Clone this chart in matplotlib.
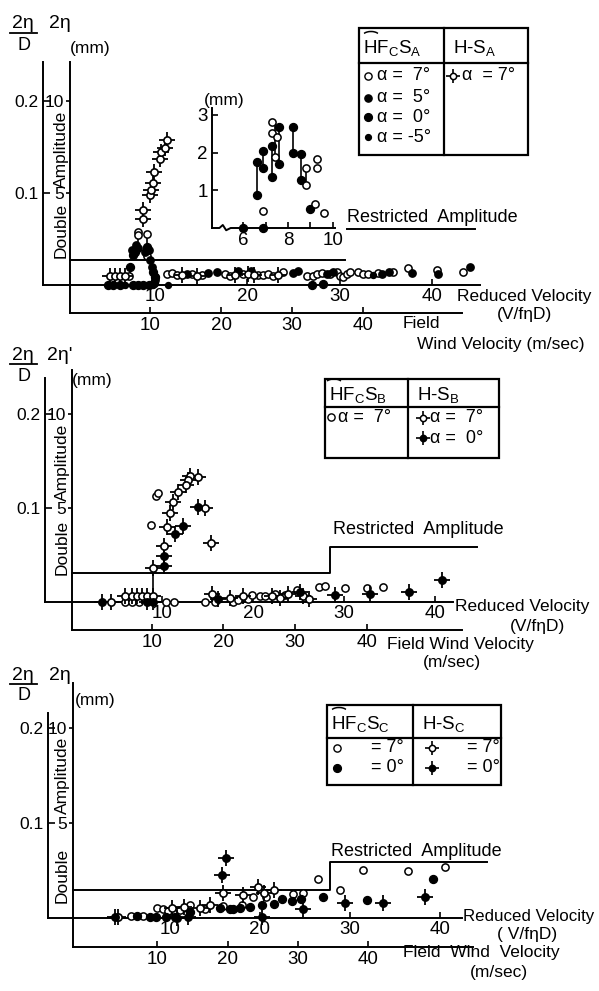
import matplotlib.pyplot as plt
from matplotlib.lines import Line2D
from matplotlib.patches import Rectangle, Arc

plt.rcParams['font.family'] = ['Liberation Sans', 'DejaVu Sans']
plt.rcParams['mathtext.fontset'] = 'custom'
plt.rcParams['mathtext.rm'] = 'Liberation Sans'
plt.rcParams['mathtext.it'] = 'Liberation Sans:italic'

W, H = 599, 991

reduced_ticks = [10, 20, 30, 40]
wind_ticks = [10, 20, 30, 40]
ratio_ticks = [0.1, 0.2]
ratio_labels = ['0.1', '0.2']
mm_ticks = [5, 10]
mm_labels = ['5', '10']

# --- HF_C S_A / H-S_A (top) ---
p1_hf7_x = [8.2, 8.2, 9.1, 9.1, 10.0, 7.2, 10.0, 11.3, 11.8, 12.4, 14.0, 15.1, 17.6, 18.1,
            19.5, 21.2, 21.7, 22.2, 22.8, 23.9, 26.5, 27.1, 27.6, 28.1, 29.0, 29.7, 30.0,
            30.4, 30.8, 31.1, 32.0, 32.5, 33.1, 34.2, 35.8, 37.4, 40.6, 43.4]
p1_hf7_y = [0.058, 0.054, 0.055, 0.031, 0.005, 0.010, 0.009, 0.012, 0.013, 0.011, 0.012,
            0.011, 0.012, 0.010, 0.012, 0.011, 0.011, 0.012, 0.010, 0.014, 0.010, 0.010,
            0.012, 0.013, 0.012, 0.014, 0.010, 0.009, 0.012, 0.014, 0.014, 0.012, 0.012,
            0.013, 0.014, 0.018, 0.016, 0.014]
p1_hf5_x = [7.9, 7.5, 8.2, 8.9, 9.3, 9.5, 9.7, 13.5, 15.7, 16.7, 19.0, 20.4, 24.9, 25.5,
            28.6, 29.3, 34.6, 35.4, 37.8, 40.7, 44.1]
p1_hf5_y = [0.043, 0.038, 0.040, 0.036, 0.038, 0.027, 0.020, 0.012, 0.013, 0.014, 0.015,
            0.015, 0.013, 0.015, 0.012, 0.014, 0.012, 0.014, 0.013, 0.012, 0.020]
p1_hf0_x = [7.8, 7.6, 9.1, 7.3, 9.8, 9.9, 10.0, 4.9, 5.5, 6.2, 7.6, 8.2, 8.7, 9.3, 27.0, 28.2]
p1_hf0_y = [0.036, 0.033, 0.041, 0.020, 0.014, 0.002, 0.009, 0.0, 0.0, 0.0, 0.0, 0.0,
            0.0, 0.0, 0.0, 0.001]
p1_hfm5_x = [6.8, 9.8, 11.4, 33.6]
p1_hfm5_y = [0.0, 0.0, 0.0, 0.011]
p1_hs7_x = [8.7, 8.7, 9.5, 9.6, 9.8, 9.9, 10.5, 10.7, 11.1, 11.3, 5.1, 5.7, 6.2, 6.8,
            12.9, 14.6, 18.7, 20.1, 20.7, 23.3]
p1_hs7_y = [0.072, 0.082, 0.098, 0.103, 0.111, 0.123, 0.137, 0.145, 0.149, 0.158, 0.010,
            0.010, 0.010, 0.010, 0.011, 0.010, 0.011, 0.012, 0.011, 0.011]
p1_link_x = [8.2, 9.1, 7.3, 9.9]
p1_link_lo = [0.040, 0.031, 0.010, 0.002]
p1_link_hi = [0.054, 0.055, 0.020, 0.014]
p1_restr_lo_x = [0.8, 30.6]
p1_restr_lo_y = [0.027, 0.027]
p1_restr_hi_x = [30.8, 44.7]
p1_restr_hi_y = [0.061, 0.061]

# inset: low-speed detail in mm
inset_ticks = [6, 7, 8, 9, 10]
inset_tick_labels = ['6', '', '8', '', '10']
inset_mm_ticks = [1, 2, 3]
in_filled_x = [6.0, 6.9, 6.6, 6.6, 6.9, 6.9, 7.3, 7.3, 7.6, 7.6, 8.2, 8.2, 8.6, 8.6, 9.0]
in_filled_y = [0.0, 0.0, 0.88, 1.75, 2.04, 1.6, 2.17, 1.35, 2.68, 1.70, 2.68, 1.99, 1.96, 1.27, 0.5]
in_open_x = [6.9, 7.3, 7.3, 7.4, 7.5, 8.8, 8.8, 9.3, 9.3, 9.2, 9.6]
in_open_y = [0.45, 2.81, 2.52, 1.88, 2.41, 1.6, 1.14, 1.83, 1.6, 0.64, 0.4]
in_link_x = [6.6, 6.9, 7.3, 7.4, 7.6, 8.2, 8.6, 8.8]
in_link_lo = [0.88, 1.6, 1.35, 1.88, 1.70, 1.99, 1.27, 1.14]
in_link_hi = [1.75, 2.04, 2.17, 2.81, 2.68, 2.68, 1.96, 1.6]

# --- HF_C S_B / H-S_B (middle) ---
p2_hf7_x = [8.8, 9.3, 9.6, 5.9, 6.7, 7.5, 10.4, 11.3, 14.7, 15.8, 17.8, 18.4, 19.5, 19.9,
            20.8, 21.3, 22.4, 23.5, 24.8, 27.2, 27.9, 30.1, 32.5, 34.3]
p2_hf7_y = [0.082, 0.113, 0.116, 0.0, 0.0, 0.0, 0.0, 0.0, 0.0, 0.0, 0.0, 0.002, 0.003,
            0.007, 0.006, 0.006, 0.009, 0.007, 0.013, 0.016, 0.017, 0.015, 0.015, 0.016]
p2_hs7_x = [14.0, 13.1, 12.9, 12.6, 11.8, 11.2, 10.9, 10.6, 10.2, 9.0, 14.7, 15.4, 4.4,
            5.9, 6.7, 7.3, 7.8, 8.4, 9.0, 15.5, 17.5, 18.9, 22.1, 23.0, 23.9, 25.5, 26.1]
p2_hs7_y = [0.133, 0.134, 0.130, 0.125, 0.117, 0.106, 0.095, 0.080, 0.060, 0.036, 0.100,
            0.063, 0.0, 0.006, 0.006, 0.006, 0.006, 0.006, 0.006, 0.009, 0.004, 0.006,
            0.006, 0.004, 0.009, 0.006, 0.003]
p2_hs0_x = [14.0, 12.3, 11.4, 10.2, 10.2, 3.4, 8.4, 9.0, 16.2, 25.2, 29.0, 32.9, 37.1, 40.8]
p2_hs0_y = [0.101, 0.081, 0.072, 0.049, 0.038, 0.0, 0.0, 0.0, 0.003, 0.011, 0.007, 0.009,
            0.011, 0.023]
p2_link_x = [9.0]
p2_link_lo = [0.0]
p2_link_hi = [0.036]
p2_restr_x = [0.1, 28.5, 28.5, 44.6]
p2_restr_y = [0.031, 0.031, 0.0585, 0.0585]

# --- HF_C S_C / H-S_C (bottom) ---
p3_hf7_x = [5.7, 7.0, 8.5, 9.2, 9.8, 10.6, 11.1, 11.9, 12.2, 13.9, 15.9, 18.0, 19.2, 20.7,
            23.7, 24.8, 26.4, 28.9, 31.4, 36.4, 40.6]
p3_hf7_y = [0.002, 0.002, 0.011, 0.009, 0.007, 0.007, 0.008, 0.011, 0.014, 0.009, 0.013,
            0.014, 0.022, 0.022, 0.025, 0.026, 0.041, 0.029, 0.051, 0.049, 0.054]
p3_hf0_x = [6.3, 7.8, 8.4, 9.6, 10.6, 12.2, 15.6, 16.7, 17.0, 17.8, 18.9, 20.2, 21.5, 22.4,
            23.5, 24.6, 27.0, 31.9, 39.2]
p3_hf0_y = [0.002, 0.001, 0.001, 0.001, 0.001, 0.006, 0.011, 0.009, 0.009, 0.011, 0.012,
            0.014, 0.015, 0.020, 0.018, 0.020, 0.022, 0.019, 0.041]
p3_hs7_x = [4.2, 10.2, 11.5, 13.3, 14.4, 15.9, 18.1, 19.8, 20.4, 21.5]
p3_hs7_y = [0.001, 0.011, 0.012, 0.011, 0.014, 0.026, 0.024, 0.033, 0.026, 0.029]
p3_hs0_x = [3.9, 10.8, 12.0, 15.8, 16.2, 20.2, 24.8, 29.4, 33.7, 38.3]
p3_hs0_y = [0.001, 0.0, 0.001, 0.045, 0.063, 0.001, 0.009, 0.016, 0.016, 0.022]
p3_restr_x = [-0.8, 27.8, 27.8, 45.2]
p3_restr_y = [0.029, 0.029, 0.059, 0.059]

CIRCLE = {'hf7': dict(mfc='w', ms=5.2), 'hf5': dict(mfc='k', ms=5.2),
          'hf0': dict(mfc='k', ms=5.6), 'hfm5': dict(mfc='k', ms=4.2)}
LW = 1.4

fig = plt.figure(figsize=(W / 100, H / 100), dpi=100)


def fx(px):
    return px / W


def fy(py):
    return 1 - py / H


def txt(px, py, s, size=12.5, ha='left', va='center', **kw):
    fig.text(fx(px), fy(py), s, fontsize=size, ha=ha, va=va, **kw)


def circles(ax, x, y, kind):
    ax.plot(x, y, ls='none', marker='o', mec='k', mew=1.1, clip_on=False, zorder=4, **CIRCLE[kind])


def stars(ax, x, y, filled):
    ax.plot(x, y, ls='none', marker='+', ms=12, mew=1.3, color='k', clip_on=False, zorder=4)
    ax.plot(x, y, ls='none', marker='o', ms=5.2, mfc='k' if filled else 'w', mec='k',
            mew=1.2, clip_on=False, zorder=5)


def links(ax, x, lo, hi):
    ax.vlines(x, lo, hi, color='k', lw=1.2, zorder=3)


def make_panel(g):
    mm_px = g['v_px'] / 50
    axf = fig.add_axes([fx(g['mm']), fy(g['field']), (g['f_right'] - g['mm']) / W,
                        (g['field'] - g['top_mm']) / H])
    axf.set_xlim((g['mm'] - g['f0']) / g['f_px'], (g['f_right'] - g['f0']) / g['f_px'])
    axf.set_ylim(-(g['field'] - g['base']) / mm_px, (g['base'] - g['top_mm']) / mm_px)
    ax = fig.add_axes([fx(g['left']), fy(g['base']), (g['r_right'] - g['left']) / W,
                       (g['base'] - g['top']) / H])
    ax.set_xlim((g['left'] - g['r0']) / g['r_px'], (g['r_right'] - g['r0']) / g['r_px'])
    ax.set_ylim(0, (g['base'] - g['top']) / g['v_px'])
    for a in (axf, ax):
        a.patch.set_alpha(0)
        a.spines[['top', 'right']].set_visible(False)
        a.spines[['left', 'bottom']].set_linewidth(LW)
    axf.set_xticks(wind_ticks)
    axf.set_yticks(mm_ticks, mm_labels)
    axf.tick_params(axis='x', direction='in', length=4, width=1.2, pad=3, labelsize=13.5)
    axf.tick_params(axis='y', direction='out', length=3, width=1.2, pad=1, labelsize=12.5)
    ax.set_xticks(reduced_ticks)
    ax.set_yticks(ratio_ticks, ratio_labels)
    ax.tick_params(axis='x', direction='in', length=4, width=1.2, pad=2, labelsize=13.5)
    ax.tick_params(axis='y', direction='in', length=5, width=1.2, pad=3, labelsize=12.5)
    return ax


def header(px, py, num2, mm_xy, amp_x, dbl_y, amp_y):
    txt(px, py, '2η', 14, ha='center')
    fig.add_artist(Line2D([fx(px - 13), fx(px + 14)], [fy(py + 9)] * 2, color='k', lw=1.3,
                          transform=fig.transFigure))
    txt(px + 1, py + 21, 'D', 13, ha='center')
    txt(px + 37, py, num2, 14, ha='center')
    txt(mm_xy[0], mm_xy[1], '(mm)', 12.5)
    txt(amp_x, dbl_y, 'Double', 12.5, ha='center', rotation=90)
    txt(amp_x, amp_y, 'Amplitude', 12.5, ha='center', rotation=90)


def key(px, py, kind):
    x, y = fx(px), fy(py)
    if kind.startswith('hs'):
        fig.add_artist(Line2D([x], [y], marker='+', ms=10, mew=1.2, color='k',
                              transform=fig.transFigure))
        fig.add_artist(Line2D([x], [y], marker='o', ms=4.5, mec='k', mew=1.1,
                              mfc='k' if kind == 'hs0' else 'w', transform=fig.transFigure))
    else:
        fig.add_artist(Line2D([x], [y], marker='o', mec='k', mew=1.0,
                              transform=fig.transFigure, **CIRCLE[kind]))


def table(x0, x1, y0, y1, ydiv, xdiv, sub, hat):
    fig.add_artist(Rectangle((fx(x0), fy(y1)), (x1 - x0) / W, (y1 - y0) / H, fill=False,
                             lw=1.6, transform=fig.transFigure))
    fig.add_artist(Line2D([fx(x0), fx(x1)], [fy(ydiv)] * 2, color='k', lw=1.6,
                          transform=fig.transFigure))
    fig.add_artist(Line2D([fx(xdiv)] * 2, [fy(y0), fy(y1)], color='k', lw=1.6,
                          transform=fig.transFigure))
    hy = (y0 + ydiv) / 2 + 2
    txt(x0 + 4, hy, r'HF$_\mathrm{C}$S$_\mathrm{%s}$' % sub, 13.5)
    fig.add_artist(Arc((fx(hat), fy(hy - 12)), 16 / W, 8 / H, theta1=10, theta2=170, lw=1.1,
                       transform=fig.transFigure))
    txt(xdiv + 9, hy, r'H-S$_\mathrm{%s}$' % sub, 13.5)


panels = [
    dict(left=43, mm=70, base=285, field=313, top=62, top_mm=62, r_right=480, f_right=462,
         r0=62.7, r_px=9.23, v_px=920, f0=79, f_px=7.1),
    dict(left=45, mm=72, base=602, field=630, top=378, top_mm=370, r_right=453, f_right=462,
         r0=71, r_px=9.1, v_px=940, f0=80, f_px=7.17),
    dict(left=48, mm=73, base=918, field=947, top=713, top_mm=683, r_right=462, f_right=473,
         r0=80, r_px=9.0, v_px=950, f0=87, f_px=7.03),
]

# top panel
ax1 = make_panel(panels[0])
ax1.plot(p1_restr_lo_x, p1_restr_lo_y, color='k', lw=LW, clip_on=False)
ax1.plot(p1_restr_hi_x, p1_restr_hi_y, color='k', lw=LW, clip_on=False)
links(ax1, p1_link_x, p1_link_lo, p1_link_hi)
circles(ax1, p1_hf7_x, p1_hf7_y, 'hf7')
circles(ax1, p1_hf5_x, p1_hf5_y, 'hf5')
circles(ax1, p1_hf0_x, p1_hf0_y, 'hf0')
circles(ax1, p1_hfm5_x, p1_hfm5_y, 'hfm5')
stars(ax1, p1_hs7_x, p1_hs7_y, False)
header(23, 24, '2η', (70, 48), 61, 230, 149)
txt(347, 217, 'Restricted  Amplitude', 13)
txt(457, 296, 'Reduced Velocity', 12.5)
txt(497, 315, '(V/fηD)', 12.5)
txt(403, 323, 'Field', 12.5)
txt(417, 344, 'Wind Velocity (m/sec)', 12.5)

axi = fig.add_axes([fx(212), fy(228), 123 / W, 120 / H])
axi.set_xlim(4.62, 10.09)
axi.set_ylim(0, 3.18)
axi.patch.set_alpha(0)
axi.spines[['top', 'right', 'bottom']].set_visible(False)
axi.spines['left'].set_linewidth(LW)
axi.plot([4.62, 4.95, 5.1, 5.25, 5.45, 10.09], [0, 0, 0.08, -0.06, 0, 0], color='k',
         lw=LW, clip_on=False)
axi.set_xticks(inset_ticks, inset_tick_labels)
axi.set_yticks(inset_mm_ticks)
axi.tick_params(direction='in', length=4, width=1.2, labelsize=13.5, pad=3)
links(axi, in_link_x, in_link_lo, in_link_hi)
circles(axi, in_filled_x, in_filled_y, 'hf0')
circles(axi, in_open_x, in_open_y, 'hf7')
txt(204, 100, '(mm)', 12.5)

table(359, 528, 28, 155, 63, 444, 'A', 371)
for py, kind, s in zip([76, 98, 117, 137], ['hf7', 'hf5', 'hf0', 'hfm5'],
                       ['α =  7°', 'α =  5°', 'α =  0°', 'α = -5°']):
    key(368, py, kind)
    txt(377, py, s, 13)
key(453, 76, 'hs7')
txt(462, 76, 'α  = 7°', 13)

# middle panel
ax2 = make_panel(panels[1])
ax2.plot(p2_restr_x, p2_restr_y, color='k', lw=LW, clip_on=False)
links(ax2, p2_link_x, p2_link_lo, p2_link_hi)
circles(ax2, p2_hf7_x, p2_hf7_y, 'hf7')
stars(ax2, p2_hs7_x, p2_hs7_y, False)
stars(ax2, p2_hs0_x, p2_hs0_y, True)
header(23, 355, "2η'", (72, 380), 62, 547, 462)
txt(333, 529, 'Restricted  Amplitude', 13)
txt(455, 606, 'Reduced Velocity', 12.5)
txt(510, 626, '(V/fηD)', 12.5)
txt(387, 644, 'Field Wind Velocity', 12.5)
txt(423, 663, '(m/sec)', 12.5)

table(325, 499, 379, 458, 407, 408, 'B', 334)
key(331, 417, 'hf7')
txt(338, 417, 'α =  7°', 13)
key(423, 418, 'hs7')
txt(430, 418, 'α =  7°', 13)
key(423, 438, 'hs0')
txt(430, 438, 'α =  0°', 13)

# bottom panel
ax3 = make_panel(panels[2])
ax3.plot(p3_restr_x, p3_restr_y, color='k', lw=LW, clip_on=False)
circles(ax3, p3_hf7_x, p3_hf7_y, 'hf7')
circles(ax3, p3_hf0_x, p3_hf0_y, 'hf0')
stars(ax3, p3_hs7_x, p3_hs7_y, False)
stars(ax3, p3_hs0_x, p3_hs0_y, True)
header(23, 675, '2η', (75, 700), 62, 875, 775)
txt(331, 851, 'Restricted  Amplitude', 13)
txt(463, 916, 'Reduced Velocity', 12.2)
txt(497, 935, '( V/fηD)', 12.5)
txt(403, 953, 'Field  Wind  Velocity', 12.5)
txt(470, 973, '(m/sec)', 12.5)

table(327, 501, 705, 785, 738, 413, 'C', 339)
for py, kind, kind2, s in zip([748, 768], ['hf7', 'hf0'], ['hs7', 'hs0'], ['= 7°', '= 0°']):
    key(337, py, kind)
    txt(371, py, s, 13)
    key(432, py, kind2)
    txt(467, py, s, 13)

fig.savefig('out.png', dpi=100)
